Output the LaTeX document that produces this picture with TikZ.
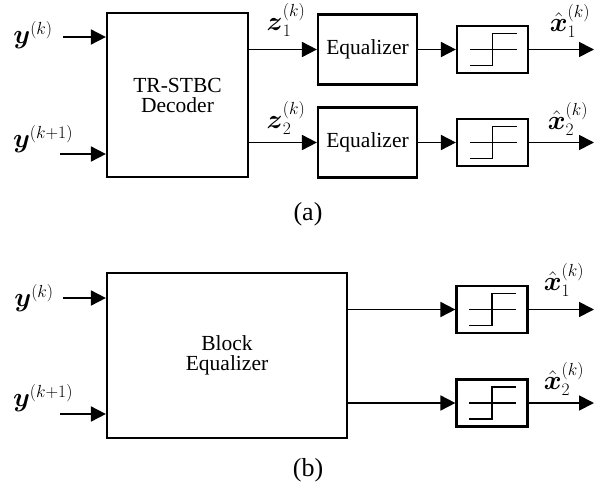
\RequirePackage{fix-cm}
\documentclass[tikz,border=0pt]{standalone}
\usepackage{amsmath}
\usepackage[no-math]{fontspec}
\setmainfont{Liberation Serif}
\usetikzlibrary{arrows.meta}
\DeclareMathSizes{27}{27}{17.5}{12.5}
\tikzset{
  box/.style={draw, line width=2.2pt, fill=white, inner sep=0pt, align=center,
    font=\fontsize{21.5}{23}\selectfont},
  quant/.style={draw, line width=2.2pt, minimum width=71pt, minimum height=47pt, inner sep=0pt,
    path picture={\draw[line width=1.6pt, shift={(path picture bounding box.center)}]
      (-23,0) -- (24,0) (-23,16) -- (0,16) -- (0,-16) -- (24,-16);}},
  arr/.style={line width=1.8pt, -{Triangle[length=15pt,width=15pt]}},
  lab/.style={inner sep=0pt, font=\fontsize{27}{29}\selectfont},
  captext/.style={inner sep=0pt, font=\fontsize{26}{28}\selectfont}
}
\begin{document}
\begin{tikzpicture}[x=1pt, y=-1pt]
\useasboundingbox (0,0) rectangle (594,490);
% ---------- (a) ----------
\node[box, minimum width=141pt, minimum height=164pt] (dec) at (177.5,95) {TR-STBC\\[-3pt]Decoder};
\node[box, minimum width=99pt, minimum height=70pt] (eq1) at (367.5,49.5) {Equalizer};
\node[box, minimum width=99pt, minimum height=70pt] (eq2) at (367.5,142.5) {Equalizer};
\node[quant] (q1) at (492.5,49.5) {};
\node[quant] (q2) at (492.5,142.5) {};
\coordinate (ia1) at (63,37);
\coordinate (ia2) at (60,154);
\coordinate (oa1) at (594,49.5);
\coordinate (oa2) at (594,142.5);
\draw[arr] (ia1) -- (ia1 -| dec.west);
\draw[arr] (ia2) -- (ia2 -| dec.west);
\draw[arr] (dec.east |- eq1.west) -- (eq1.west);
\draw[arr] (dec.east |- eq2.west) -- (eq2.west);
\draw[arr] (eq1) -- (q1);
\draw[arr] (eq2) -- (q2);
\draw[arr] (q1) -- (oa1);
\draw[arr] (q2) -- (oa2);
\node[lab] (ya1) at (33,35) {$\boldsymbol{y}^{(k)}$};
\node[lab] (ya2) at (43,139) {$\boldsymbol{y}^{(k+1)}$};
\node[lab] (z1) at (286,20) {$\boldsymbol{z}_1^{(k)}$};
\node[lab] (z2) at (286,118) {$\boldsymbol{z}_2^{(k)}$};
\node[lab] (xa1) at (570,21) {$\hat{\boldsymbol{x}}_1^{(k)}$};
\node[lab] (xa2) at (568,119) {$\hat{\boldsymbol{x}}_2^{(k)}$};
\node[captext] (capa) at (308,214) {(a)};
% ---------- (b) ----------
\node[box, minimum width=240pt, minimum height=165pt] (beq) at (227,355.5) {Block\\[-3pt]Equalizer};
\node[quant] (q3) at (492,309.5) {};
\node[quant] (q4) at (492,403) {};
\coordinate (ib1) at (63,298);
\coordinate (ib2) at (60,414);
\coordinate (ob1) at (594,309.5);
\coordinate (ob2) at (594,403);
\draw[arr] (ib1) -- (ib1 -| beq.west);
\draw[arr] (ib2) -- (ib2 -| beq.west);
\draw[arr] (beq.east |- q3.west) -- (q3.west);
\draw[arr] (beq.east |- q4.west) -- (q4.west);
\draw[arr] (q3) -- (ob1);
\draw[arr] (q4) -- (ob2);
\node[lab] (yb1) at (34,298) {$\boldsymbol{y}^{(k)}$};
\node[lab] (yb2) at (43,398) {$\boldsymbol{y}^{(k+1)}$};
\node[lab] (xb1) at (564,280) {$\hat{\boldsymbol{x}}_1^{(k)}$};
\node[lab] (xb2) at (564,379) {$\hat{\boldsymbol{x}}_2^{(k)}$};
\node[captext] (capb) at (308,470) {(b)};
\end{tikzpicture}
\end{document}
